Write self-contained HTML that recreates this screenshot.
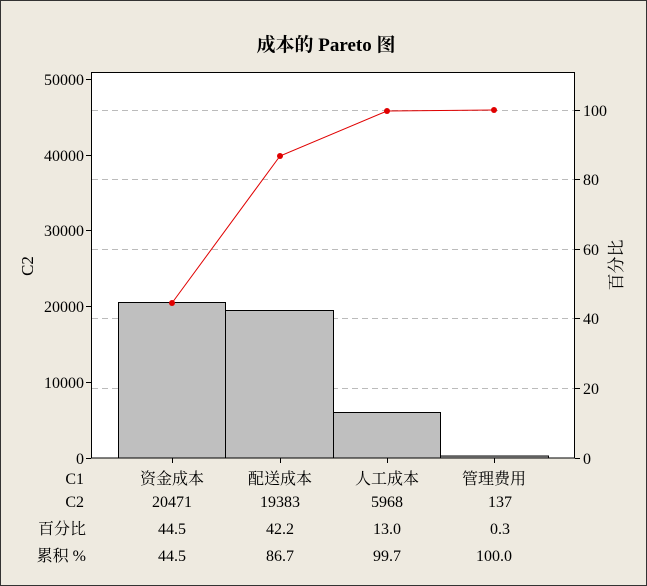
<!DOCTYPE html>
<html><head><meta charset="utf-8"><style>
html,body{margin:0;padding:0;background:#EEEAE0;}
svg{display:block;}
text{font-family:"Liberation Serif","Noto Serif CJK SC",serif;fill:#000;}
</style></head><body>
<svg width="647" height="586" viewBox="0 0 647 586" xmlns="http://www.w3.org/2000/svg">
<rect x="0.5" y="0.5" width="646" height="585" fill="#EEEAE0" stroke="#333" stroke-width="1"/>
<text x="326" y="51" font-size="19" font-weight="bold" text-anchor="middle">成本的 Pareto 图</text>
<rect x="91" y="72" width="484" height="386" fill="#fff"/>
<g stroke="#bbb" stroke-dasharray="6,4" stroke-width="1">
<line x1="92" y1="110.5" x2="575" y2="110.5"/>
<line x1="92" y1="179.5" x2="575" y2="179.5"/>
<line x1="92" y1="249.5" x2="575" y2="249.5"/>
<line x1="92" y1="318.5" x2="575" y2="318.5"/>
<line x1="92" y1="388.5" x2="575" y2="388.5"/>
</g>
<g fill="#BFBFBF" stroke="#000" stroke-width="1">
<rect x="118.5" y="302.5" width="107" height="155.5"/>
<rect x="225.5" y="310.5" width="108" height="147.5"/>
<rect x="333.5" y="412.5" width="107" height="45.5"/>
<rect x="440.5" y="456" width="108" height="2"/>
</g>
<rect x="91.5" y="72.5" width="483" height="385.5" fill="none" stroke="#000"/>
<polyline points="172,303 280,156 387,111 494,110" fill="none" stroke="#E00000" stroke-width="1"/>
<g fill="#E00000">
<circle cx="172" cy="303" r="3"/><circle cx="280" cy="156" r="3"/><circle cx="387" cy="111" r="3"/><circle cx="494" cy="110" r="3"/>
</g>
<g stroke="#000">
<line x1="86" y1="79.5" x2="91" y2="79.5"/><line x1="86" y1="155.5" x2="91" y2="155.5"/><line x1="86" y1="230.5" x2="91" y2="230.5"/>
<line x1="86" y1="306.5" x2="91" y2="306.5"/><line x1="86" y1="382.5" x2="91" y2="382.5"/><line x1="86" y1="458.5" x2="91" y2="458.5"/>
<line x1="575" y1="110.5" x2="580" y2="110.5"/><line x1="575" y1="179.5" x2="580" y2="179.5"/><line x1="575" y1="249.5" x2="580" y2="249.5"/>
<line x1="575" y1="318.5" x2="580" y2="318.5"/><line x1="575" y1="388.5" x2="580" y2="388.5"/><line x1="575" y1="458.5" x2="580" y2="458.5"/>
<line x1="172.5" y1="458" x2="172.5" y2="463"/><line x1="280.5" y1="458" x2="280.5" y2="463"/><line x1="387.5" y1="458" x2="387.5" y2="463"/><line x1="494.5" y1="458" x2="494.5" y2="463"/>
</g>
<g font-size="16" text-anchor="end">
<text x="84" y="85">50000</text><text x="84" y="161">40000</text><text x="84" y="236">30000</text>
<text x="84" y="312">20000</text><text x="84" y="388">10000</text><text x="84" y="464">0</text>
</g>
<g font-size="16" text-anchor="start">
<text x="583" y="116">100</text><text x="583" y="185">80</text><text x="583" y="255">60</text>
<text x="583" y="324">40</text><text x="583" y="394">20</text><text x="583" y="464">0</text>
</g>
<text transform="translate(33,266) rotate(-90)" font-size="17" text-anchor="middle">C2</text>
<text transform="translate(622,265) rotate(-90)" font-size="17" text-anchor="middle">百分比</text>
<g font-size="16" text-anchor="end">
<text x="84" y="484">C1</text><text x="84" y="507">C2</text><text x="86" y="534">百分比</text><text x="86" y="561">累积 %</text>
</g>
<g font-size="16" text-anchor="middle">
<text x="172" y="484">资金成本</text><text x="280" y="484">配送成本</text><text x="387" y="484">人工成本</text><text x="494" y="484">管理费用</text>
<text x="172" y="507">20471</text><text x="280" y="507">19383</text><text x="387" y="507">5968</text><text x="500" y="507">137</text>
<text x="172" y="534">44.5</text><text x="280" y="534">42.2</text><text x="387" y="534">13.0</text><text x="500" y="534">0.3</text>
<text x="172" y="561">44.5</text><text x="280" y="561">86.7</text><text x="387" y="561">99.7</text><text x="494" y="561">100.0</text>
</g>
</svg>
</body></html>
